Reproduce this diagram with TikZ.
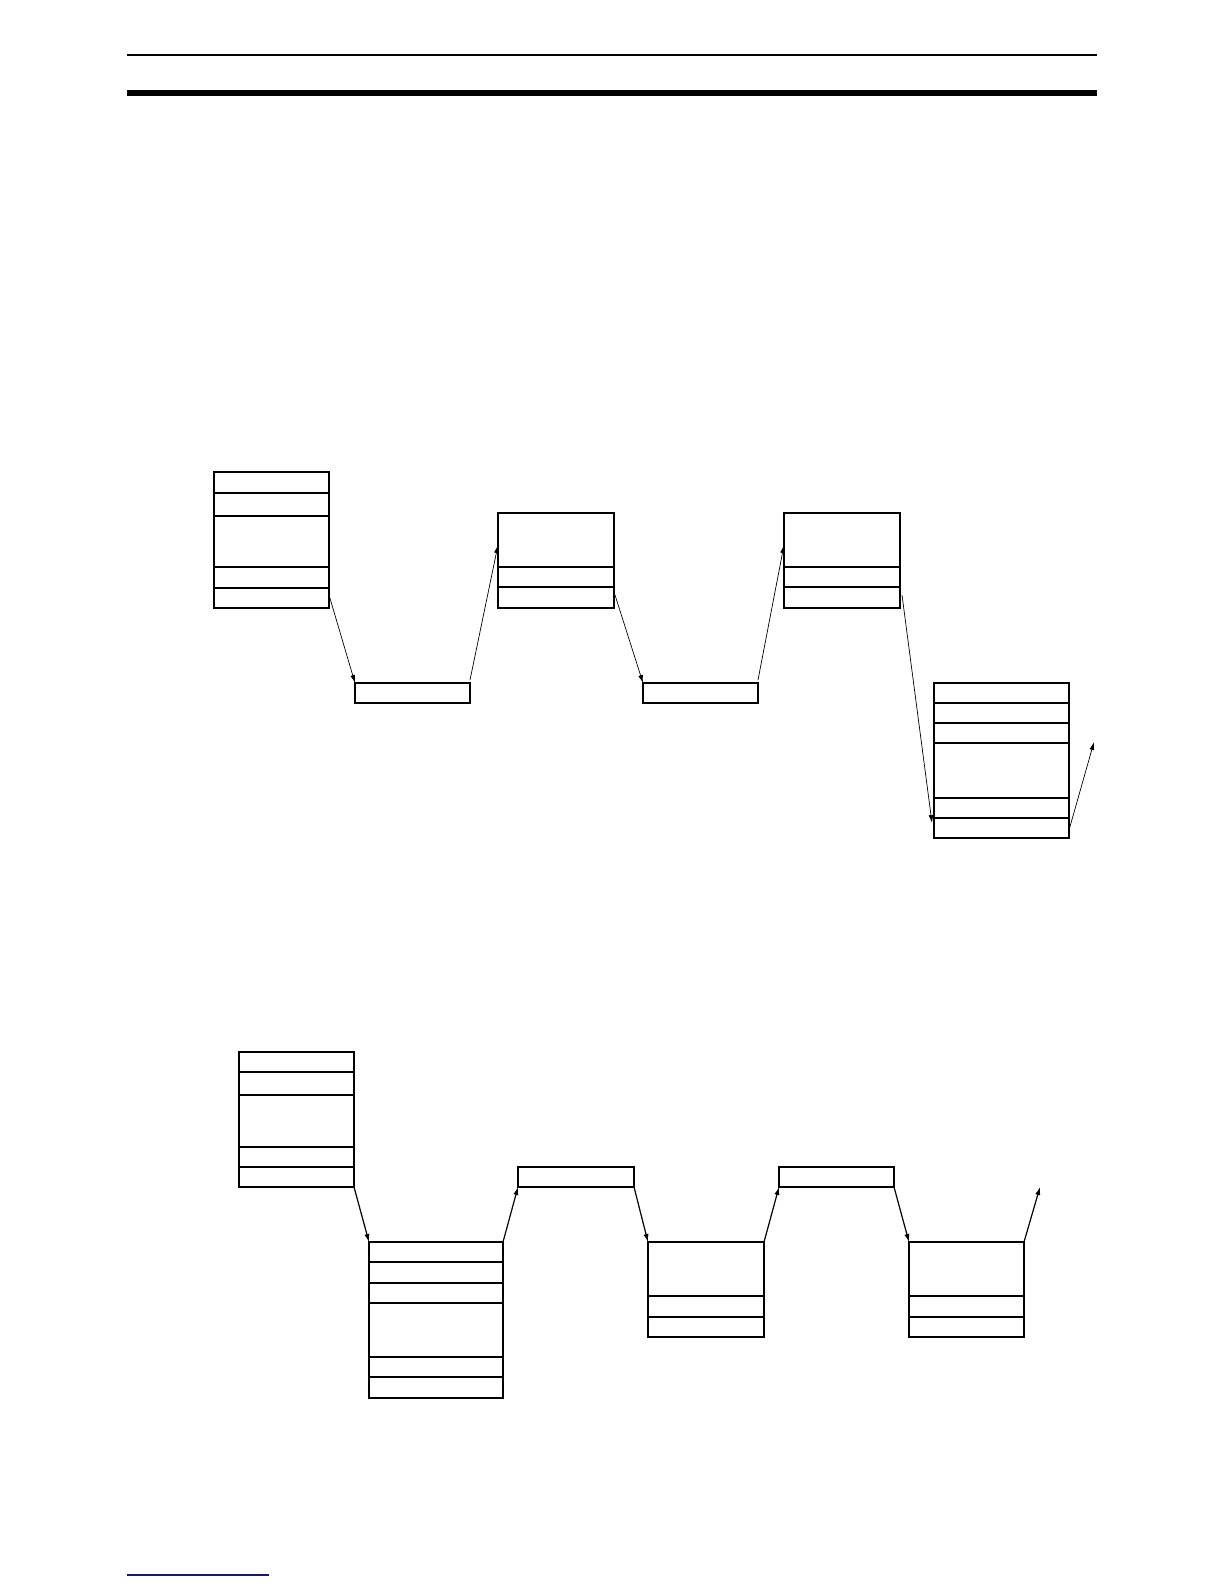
\documentclass[tikz,border=0pt]{standalone}
\usetikzlibrary{arrows.meta}
\definecolor{linkblue}{RGB}{20,20,130}
\tikzset{
  box/.style={draw, line width=.7bp, inner sep=0pt, outer sep=0pt, anchor=north west},
  thinarr/.style={line width=.35bp, -{Latex[length=4bp,width=2.4bp]}},
  arr/.style={line width=.6bp, -{Latex[length=4bp,width=2.6bp]}},
  sep/.style={line width=.7bp}
}
\begin{document}
\begin{tikzpicture}[x=0.5bp, y=-0.5bp]
  \useasboundingbox (0,0) rectangle (1224,1584);
  % page rules
  \draw[line width=.75bp] (127,55) -- (1097,55);
  \draw[line width=3bp] (127,93) -- (1097,93);
  \draw[linkblue, line width=.6bp] (127,1575) -- (269,1575);

  % first chain
  \node[box, minimum width=57.5bp, minimum height=68bp] (A) at (214,472) {};
  \foreach \r in {493,516,567,588}
    \draw[sep] (A.west |- 0,\r) -- (A.east |- 0,\r);
  \node[box, minimum width=57.5bp, minimum height=10bp] (B) at (355,683) {};
  \node[box, minimum width=58bp, minimum height=47.5bp] (C) at (498,513) {};
  \foreach \r in {567,587}
    \draw[sep] (C.west |- 0,\r) -- (C.east |- 0,\r);
  \node[box, minimum width=57.5bp, minimum height=10bp] (D) at (643,683) {};
  \node[box, minimum width=58bp, minimum height=47.5bp] (E) at (784,513) {};
  \foreach \r in {567,587}
    \draw[sep] (E.west |- 0,\r) -- (E.east |- 0,\r);
  \node[box, minimum width=67.5bp, minimum height=77.5bp] (F) at (934,683) {};
  \foreach \r in {703,723,743,798,818}
    \draw[sep] (F.west |- 0,\r) -- (F.east |- 0,\r);
  \coordinate (Fout) at (1094,742);

  \draw[thinarr] (A.east |- 0,595) -- (B.north west);
  \draw[thinarr] ([yshift=1.5bp]B.north east) -- (C.west |- 0,545);
  \draw[thinarr] ([xshift=.5bp]C.east |- 0,595) -- (D.north west);
  \draw[thinarr] ([yshift=1.5bp]D.north east) -- (E.west |- 0,545);
  \draw[thinarr] ([xshift=1bp]E.east |- 0,595) -- ([xshift=-1bp]F.west |- 0,823);
  \draw[thinarr] (F.east |- 0,830) -- (Fout);

  % second chain
  \node[box, minimum width=57.5bp, minimum height=67.5bp] (G) at (239,1052) {};
  \foreach \r in {1072,1095,1147,1167}
    \draw[sep] (G.west |- 0,\r) -- (G.east |- 0,\r);
  \node[box, minimum width=67bp, minimum height=78bp] (H) at (369,1242) {};
  \foreach \r in {1262,1283,1303,1357,1377}
    \draw[sep] (H.west |- 0,\r) -- (H.east |- 0,\r);
  \node[box, minimum width=58bp, minimum height=10bp] (I) at (518,1167) {};
  \node[box, minimum width=58bp, minimum height=47.5bp] (J) at (648,1242) {};
  \foreach \r in {1296,1317}
    \draw[sep] (J.west |- 0,\r) -- (J.east |- 0,\r);
  \node[box, minimum width=57.5bp, minimum height=10bp] (K) at (779,1167) {};
  \node[box, minimum width=57.5bp, minimum height=47.5bp] (L) at (909,1242) {};
  \foreach \r in {1296,1317}
    \draw[sep] (L.west |- 0,\r) -- (L.east |- 0,\r);
  \coordinate (Lout) at (1040,1187);

  \draw[arr] (G.south east) -- (H.north west);
  \draw[arr] (H.north east) -- (I.south west);
  \draw[arr] (I.south east) -- (J.north west);
  \draw[arr] (J.north east) -- (K.south west);
  \draw[arr] (K.south east) -- (L.north west);
  \draw[arr] (L.north east) -- (Lout);
\end{tikzpicture}
\end{document}
